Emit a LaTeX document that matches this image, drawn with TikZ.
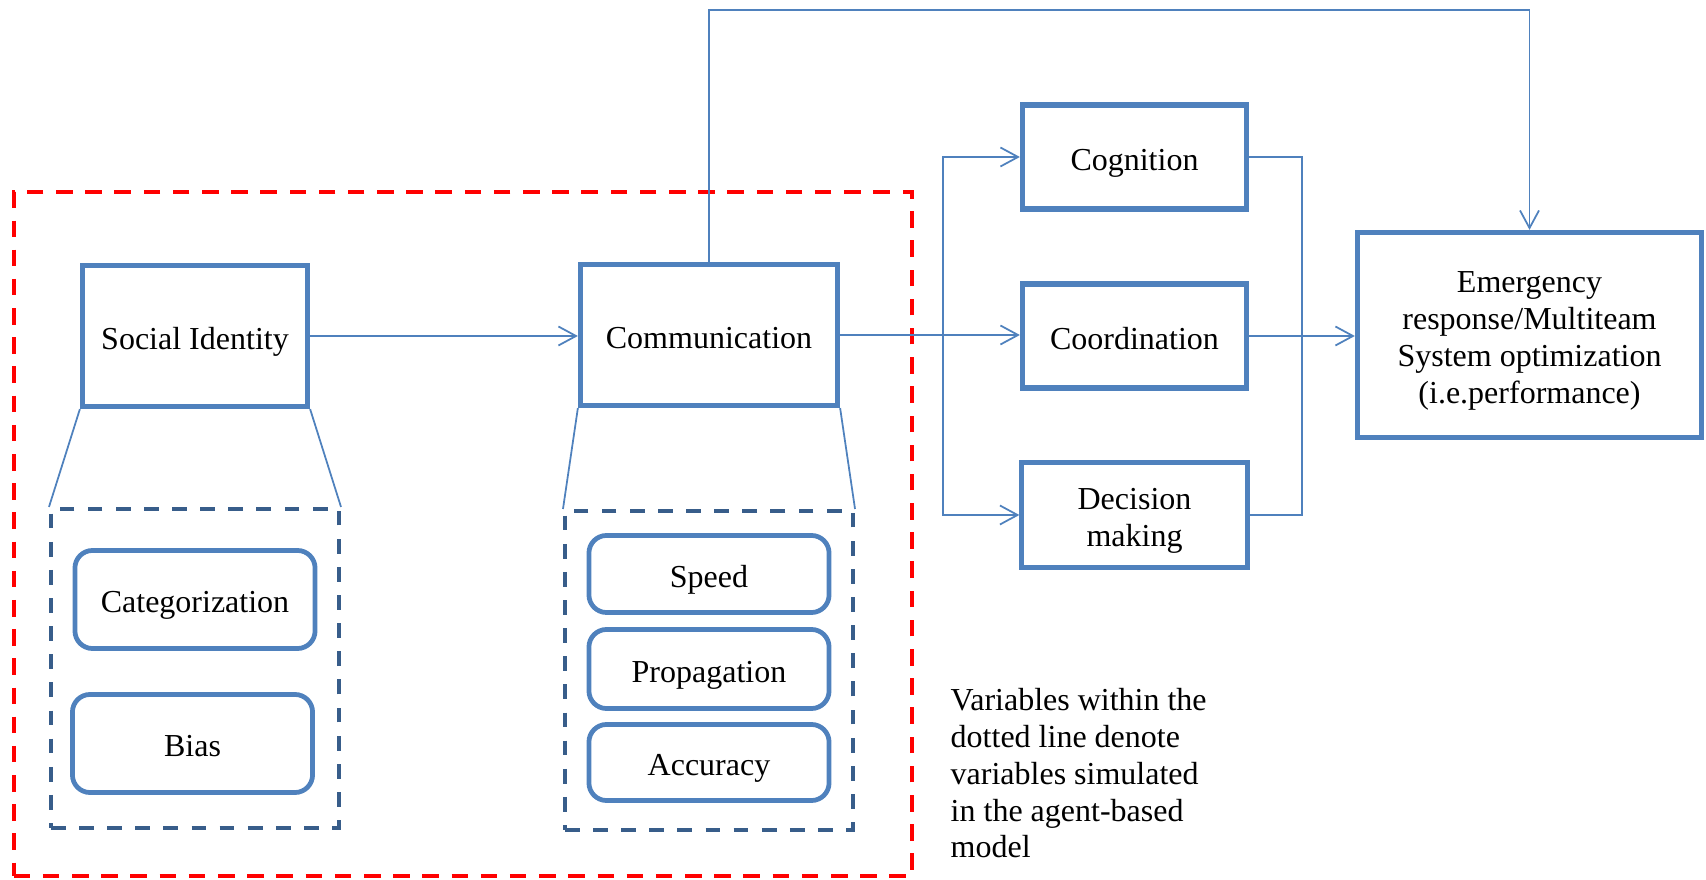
\documentclass[tikz,border=0pt]{standalone}
\usepackage{fontspec}
\setmainfont{Liberation Serif}
\usepackage{xcolor}
\usetikzlibrary{arrows.meta}

\definecolor{boxblue}{RGB}{79,129,189}
\definecolor{dashblue}{RGB}{56,93,138}
\newcommand{\boxstrut}{\rule[-0.2em]{0pt}{1.23em}}

\begin{document}
\begin{tikzpicture}[
		%Global config
		x=0.01cm, y=-0.01cm,
		>={Straight Barb[length=5pt,width=5.4pt]},
		font=\fontsize{9.1pt}{10.45pt}\selectfont,
		%Styles
		Block/.style={
			draw=boxblue,
			line width=1.45pt,
			align=center,
			inner sep=2pt,
			execute at begin node=\boxstrut,
		},
		Item/.style={
			draw=boxblue,
			line width=1.35pt,
			rounded corners=5pt,
			minimum width=2.4cm,
			execute at begin node=\boxstrut,
		},
		Group/.style={
			draw=dashblue,
			line width=1.1pt,
			dash pattern=on 4.2pt off 3.8pt,
			minimum width=2.88cm,
			minimum height=3.19cm,
		},
		Sim/.style={
			draw=red,
			line width=1.1pt,
			dash pattern=on 4.7pt off 3.6pt,
		},
		link/.style={
			draw=boxblue,
			line width=0.5pt,
		}
		]
		\useasboundingbox (0,0) rectangle (1706,880);

		% simulated part
		\node[Sim, minimum width=8.98cm, minimum height=6.84cm] (sim) at (463,534) {};
		\node[anchor=north west, align=left, inner sep=0pt] (note) at (950,688) {Variables within the\\dotted line denote\\variables simulated\\in the agent-based\\model};

		% main blocks
		\node[Block, minimum width=2.25cm, minimum height=1.41cm] (SI) at (195,336) {Social Identity};
		\node[Block, minimum width=2.57cm, minimum height=1.41cm] (Comm) at (709,335) {Communication};
		\node[Block, minimum width=2.24cm, minimum height=1.04cm] (Cog) at (1134.5,157) {Cognition};
		\node[Block, minimum width=2.24cm, minimum height=1.04cm] (Coord) at (1134.5,336) {Coordination};
		\node[Block, minimum width=2.25cm, minimum height=1.05cm] (Dec) at (1134.5,515) {\boxstrut Decision\\making};
		\node[Block, minimum width=3.44cm, minimum height=2.05cm] (EM) at (1529.5,335) {\boxstrut Emergency\\response/Multiteam\\System optimization\\(i.e.performance)};

		% sub variables
		\node[Group] (SIgrp) at (195,668.5) {};
		\node[Group] (Commgrp) at (709,670.5) {};
		\node[Item, minimum height=0.98cm] (Cat) at (195,599.5) {Categorization};
		\node[Item, minimum height=0.98cm] (Bias) at (192.5,743.5) {Bias};
		\node[Item, minimum height=0.77cm] (Speed) at (709,574) {Speed};
		\node[Item, minimum height=0.79cm] (Prop) at (709,669) {Propagation};
		\node[Item, minimum height=0.76cm] (Acc) at (709,762.5) {Accuracy};

		\draw[link] (SI.south west) -- (SIgrp.north west);
		\draw[link] (SI.south east) -- (SIgrp.north east);
		\draw[link] (Comm.south west) -- (Commgrp.north west);
		\draw[link] (Comm.south east) -- (Commgrp.north east);

		% connectors
		\coordinate (fork) at (943,336);
		\coordinate (join) at (1302,336);
		\draw[link,->] (SI.east) -- (SI.east -| Comm.west);
		\draw[link,->] (Comm.east) -- (Comm.east -| Coord.west);
		\draw[link,->] (fork) |- (Cog.west);
		\draw[link,->] (fork) |- (Dec.west);
		\draw[link] (Cog.east) -| (join) |- (Dec.east);
		\draw[link,->] (Coord.east) -- (Coord.east -| EM.west);
		\draw[link,->] (Comm.north) -- ++(0,-252) -| (EM.north);
	\end{tikzpicture}
\end{document}
